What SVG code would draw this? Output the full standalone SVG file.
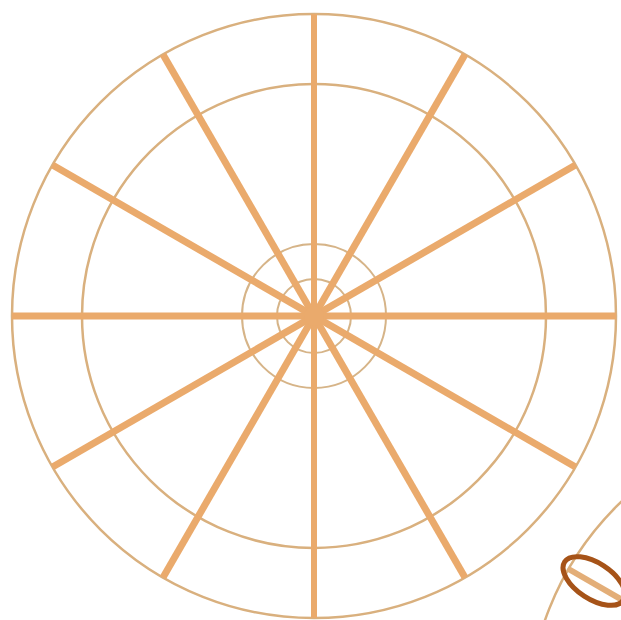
<svg xmlns="http://www.w3.org/2000/svg" width="621" height="620" viewBox="0 0 621 620">
<style>
.ring{fill:none;stroke:#D9B07E;stroke-width:2.5}
.thin{fill:none;stroke:#D6B488;stroke-width:2}
.spoke{stroke:#EAAA6C;stroke-width:7;stroke-linecap:butt}
</style>
<rect width="621" height="620" fill="#ffffff"/>
<g id="wheel">
<circle class="ring" cx="314" cy="316" r="302"/>
<circle class="ring" cx="314" cy="316" r="232"/>
<circle class="thin" cx="314" cy="316" r="72"/>
<circle class="thin" cx="314" cy="316" r="37"/>
<g id="spokes">
<line class="spoke" style="stroke-width:6" x1="314" y1="14" x2="314" y2="618"/>
<line class="spoke" x1="12" y1="316" x2="616" y2="316"/>
<line class="spoke" x1="163" y1="54.5" x2="465" y2="577.5"/>
<line class="spoke" x1="465" y1="54.5" x2="163" y2="577.5"/>
<line class="spoke" x1="52.5" y1="165" x2="575.5" y2="467"/>
<line class="spoke" x1="575.5" y1="165" x2="52.5" y2="467"/>
</g>
<circle cx="314" cy="316" r="10" fill="#EAAA6C"/>
</g>
<g id="wheel2">
<circle class="ring" cx="830" cy="720" r="302"/>
<line stroke="#E3AE78" stroke-width="6" x1="568.5" y1="569" x2="830" y2="720"/>
</g>
<g id="oval">
<ellipse cx="594" cy="581" rx="35" ry="18" transform="rotate(33 594 581)" fill="none" stroke="#A65318" stroke-width="5"/>
</g>
</svg>
